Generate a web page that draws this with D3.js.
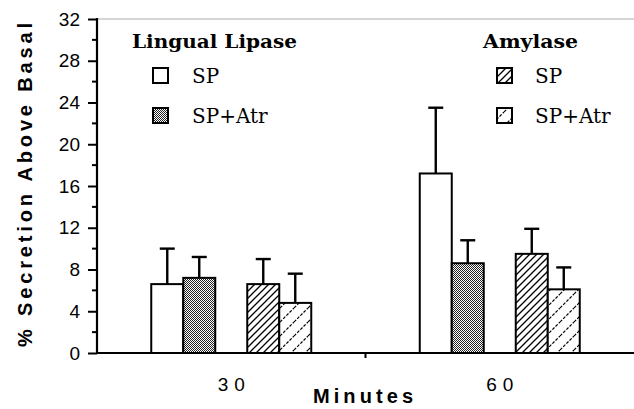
<!DOCTYPE html>
<html>
<head>
<meta charset="utf-8">
<script src="https://cdn.jsdelivr.net/npm/d3@7"></script>
<style>
  html, body { margin: 0; padding: 0; background: #fff; }
  svg { display: block; }
</style>
</head>
<body>
<script>
// Time points (minutes after stimulation)
const categories = ["30", "60"];
// Four bars per time point
const seriesNames = ["Lipase SP", "Lipase SP+Atr", "Amylase SP", "Amylase SP+Atr"];
const seriesFills = ["url(#open)", "url(#stipple)", "url(#hatchDense)", "url(#hatchSparse)"];
// Mean % secretion above basal
const means30 = [6.6, 7.2, 6.6, 4.8];
const means60 = [17.2, 8.6, 9.5, 6.1];
// Error (upper whisker length)
const errs30 = [3.4, 2.0, 2.4, 2.8];
const errs60 = [6.3, 2.2, 2.4, 2.1];
const yTicks = [0, 4, 8, 12, 16, 20, 24, 28, 32];
const yMinorTicks = [2, 6, 10, 14, 18, 22, 26, 30];

const W = 634, H = 409;
const svg = d3.select("body").append("svg").attr("width", W).attr("height", H);

// ---- fill patterns ----
const defs = svg.append("defs");
defs.append("pattern").attr("id", "open")
  .attr("patternUnits", "userSpaceOnUse").attr("width", 4).attr("height", 4)
  .append("rect").attr("width", 4).attr("height", 4).attr("fill", "#fff");

const st = defs.append("pattern").attr("id", "stipple")
  .attr("patternUnits", "userSpaceOnUse").attr("width", 2).attr("height", 2);
st.append("rect").attr("width", 2).attr("height", 2).attr("fill", "#fff");
st.append("rect").attr("x", 0).attr("y", 0).attr("width", 1).attr("height", 1).attr("fill", "#222");
st.append("rect").attr("x", 1).attr("y", 1).attr("width", 1).attr("height", 1).attr("fill", "#222");

const hd = defs.append("pattern").attr("id", "hatchDense")
  .attr("patternUnits", "userSpaceOnUse").attr("width", 7).attr("height", 7);
hd.append("rect").attr("width", 7).attr("height", 7).attr("fill", "#fff");
hd.append("path").attr("d", "M-1,1 L1,-1 M0,7 L7,0 M6,8 L8,6")
  .attr("stroke", "#000").attr("stroke-width", 1.3);

const hs = defs.append("pattern").attr("id", "hatchSparse")
  .attr("patternUnits", "userSpaceOnUse").attr("width", 14).attr("height", 14);
hs.append("rect").attr("width", 14).attr("height", 14).attr("fill", "#fff");
hs.append("path").attr("d", "M-2,2 L2,-2 M0,14 L14,0 M12,16 L16,12")
  .attr("stroke", "#000").attr("stroke-width", 1.2).attr("stroke-dasharray", "3,1.5");

// ---- scales ----
const x = d3.scaleBand().domain(categories).range([97, 634]).padding(0);
const slot = d3.scaleBand().domain(d3.range(5)).range([-80, 80]).padding(0);
const slotIndex = [0, 1, 3, 4];
const y = d3.scaleLinear().domain([0, 32]).range([353, 19]);

// ---- data rows ----
const rows = [];
categories.forEach((c, ci) => {
  const m = ci === 0 ? means30 : means60;
  const e = ci === 0 ? errs30 : errs60;
  seriesNames.forEach((s, si) => {
    rows.push({ cat: c, si, mean: m[si], err: e[si] });
  });
});

const bx = d => x(d.cat) + x.bandwidth() / 2 + slot(slotIndex[d.si]);
const bw = slot.bandwidth();

// error bars (behind bars)
const eb = svg.append("g").attr("stroke", "#000").attr("stroke-width", 2.4);
eb.selectAll("line.v").data(rows).join("line").attr("class", "v")
  .attr("x1", d => bx(d) + bw / 2).attr("x2", d => bx(d) + bw / 2)
  .attr("y1", d => y(d.mean)).attr("y2", d => y(d.mean + d.err));
eb.selectAll("line.c").data(rows).join("line").attr("class", "c")
  .attr("x1", d => bx(d) + bw / 2 - 7.5).attr("x2", d => bx(d) + bw / 2 + 7.5)
  .attr("y1", d => y(d.mean + d.err)).attr("y2", d => y(d.mean + d.err));

// bars
svg.append("g").selectAll("rect").data(rows).join("rect")
  .attr("x", d => bx(d)).attr("width", bw)
  .attr("y", d => y(d.mean)).attr("height", d => y(0) - y(d.mean))
  .attr("fill", d => seriesFills[d.si])
  .attr("stroke", "#000").attr("stroke-width", 2);

// ---- axes ----
// faint top frame
svg.append("line").attr("x1", 97).attr("x2", W).attr("y1", y(32)).attr("y2", y(32))
  .attr("stroke", "#aaa").attr("stroke-width", 1);

const yAxis = d3.axisLeft(y).tickValues(yTicks).tickSize(9).tickPadding(8).tickFormat(d3.format("d"));
const gy = svg.append("g").attr("transform", "translate(97,0)").call(yAxis);
gy.select(".domain").remove();
gy.selectAll(".tick line").attr("stroke-width", 2);
gy.selectAll(".tick text").attr("font-family", "Liberation Sans, Arial, sans-serif")
  .attr("font-size", 19).attr("fill", "#000");
svg.append("g").selectAll("line").data(yMinorTicks).join("line")
  .attr("x1", 92).attr("x2", 97).attr("y1", d => y(d)).attr("y2", d => y(d))
  .attr("stroke", "#000").attr("stroke-width", 2);
svg.append("line").attr("x1", 97).attr("x2", 97).attr("y1", y(32) - 1).attr("y2", y(0) + 1)
  .attr("stroke", "#000").attr("stroke-width", 2.2);

// baseline
svg.append("line").attr("x1", 97).attr("x2", W).attr("y1", y(0)).attr("y2", y(0))
  .attr("stroke", "#000").attr("stroke-width", 2);
// divider tick between time points
svg.append("line").attr("x1", x("60")).attr("x2", x("60"))
  .attr("y1", y(0)).attr("y2", y(0) + 5).attr("stroke", "#000").attr("stroke-width", 2);

// category labels
svg.append("g").selectAll("text").data(categories).join("text")
  .attr("x", d => x(d) + x.bandwidth() / 2 + 3).attr("y", 391)
  .attr("text-anchor", "middle")
  .attr("font-family", "Liberation Sans, Arial, sans-serif").attr("font-size", 19)
  .attr("letter-spacing", 6)
  .text(d => d);

svg.append("text").attr("x", 363).attr("y", 403).attr("text-anchor", "middle")
  .attr("font-family", "Liberation Sans, Arial, sans-serif").attr("font-size", 20)
  .attr("font-weight", "bold").attr("textLength", 100).attr("lengthAdjust", "spacing")
  .text("Minutes");

svg.append("text")
  .attr("transform", "translate(32,185) rotate(-90)")
  .attr("text-anchor", "middle")
  .attr("font-family", "Liberation Sans, Arial, sans-serif").attr("font-size", 20)
  .attr("font-weight", "bold").attr("textLength", 324).attr("lengthAdjust", "spacing")
  .text("% Secretion  Above  Basal");

// ---- legends ----
const legends = [
  { title: "Lingual Lipase", tx: 132, tw: 165, bx: 153, lx: 192, items: [0, 1] },
  { title: "Amylase", tx: 483, tw: 95, bx: 497, lx: 535, items: [2, 3] }
];
const itemLabels = ["SP", "SP+Atr", "SP", "SP+Atr"];
legends.forEach(L => {
  const g = svg.append("g");
  g.append("text").attr("x", L.tx).attr("y", 48)
    .attr("font-family", "DejaVu Serif, serif").attr("font-weight", "bold").attr("font-size", 19)
    .attr("textLength", L.tw).attr("lengthAdjust", "spacingAndGlyphs")
    .text(L.title);
  L.items.forEach((si, k) => {
    const top = 68 + k * 40;
    g.append("rect").attr("x", L.bx).attr("y", top).attr("width", 15).attr("height", 15)
      .attr("fill", seriesFills[si]).attr("stroke", "#000").attr("stroke-width", 2);
    g.append("text").attr("x", L.lx).attr("y", top + 15)
      .attr("font-family", "DejaVu Serif, serif").attr("font-size", 20)
      .text(itemLabels[si]);
  });
});
</script>
</body>
</html>
